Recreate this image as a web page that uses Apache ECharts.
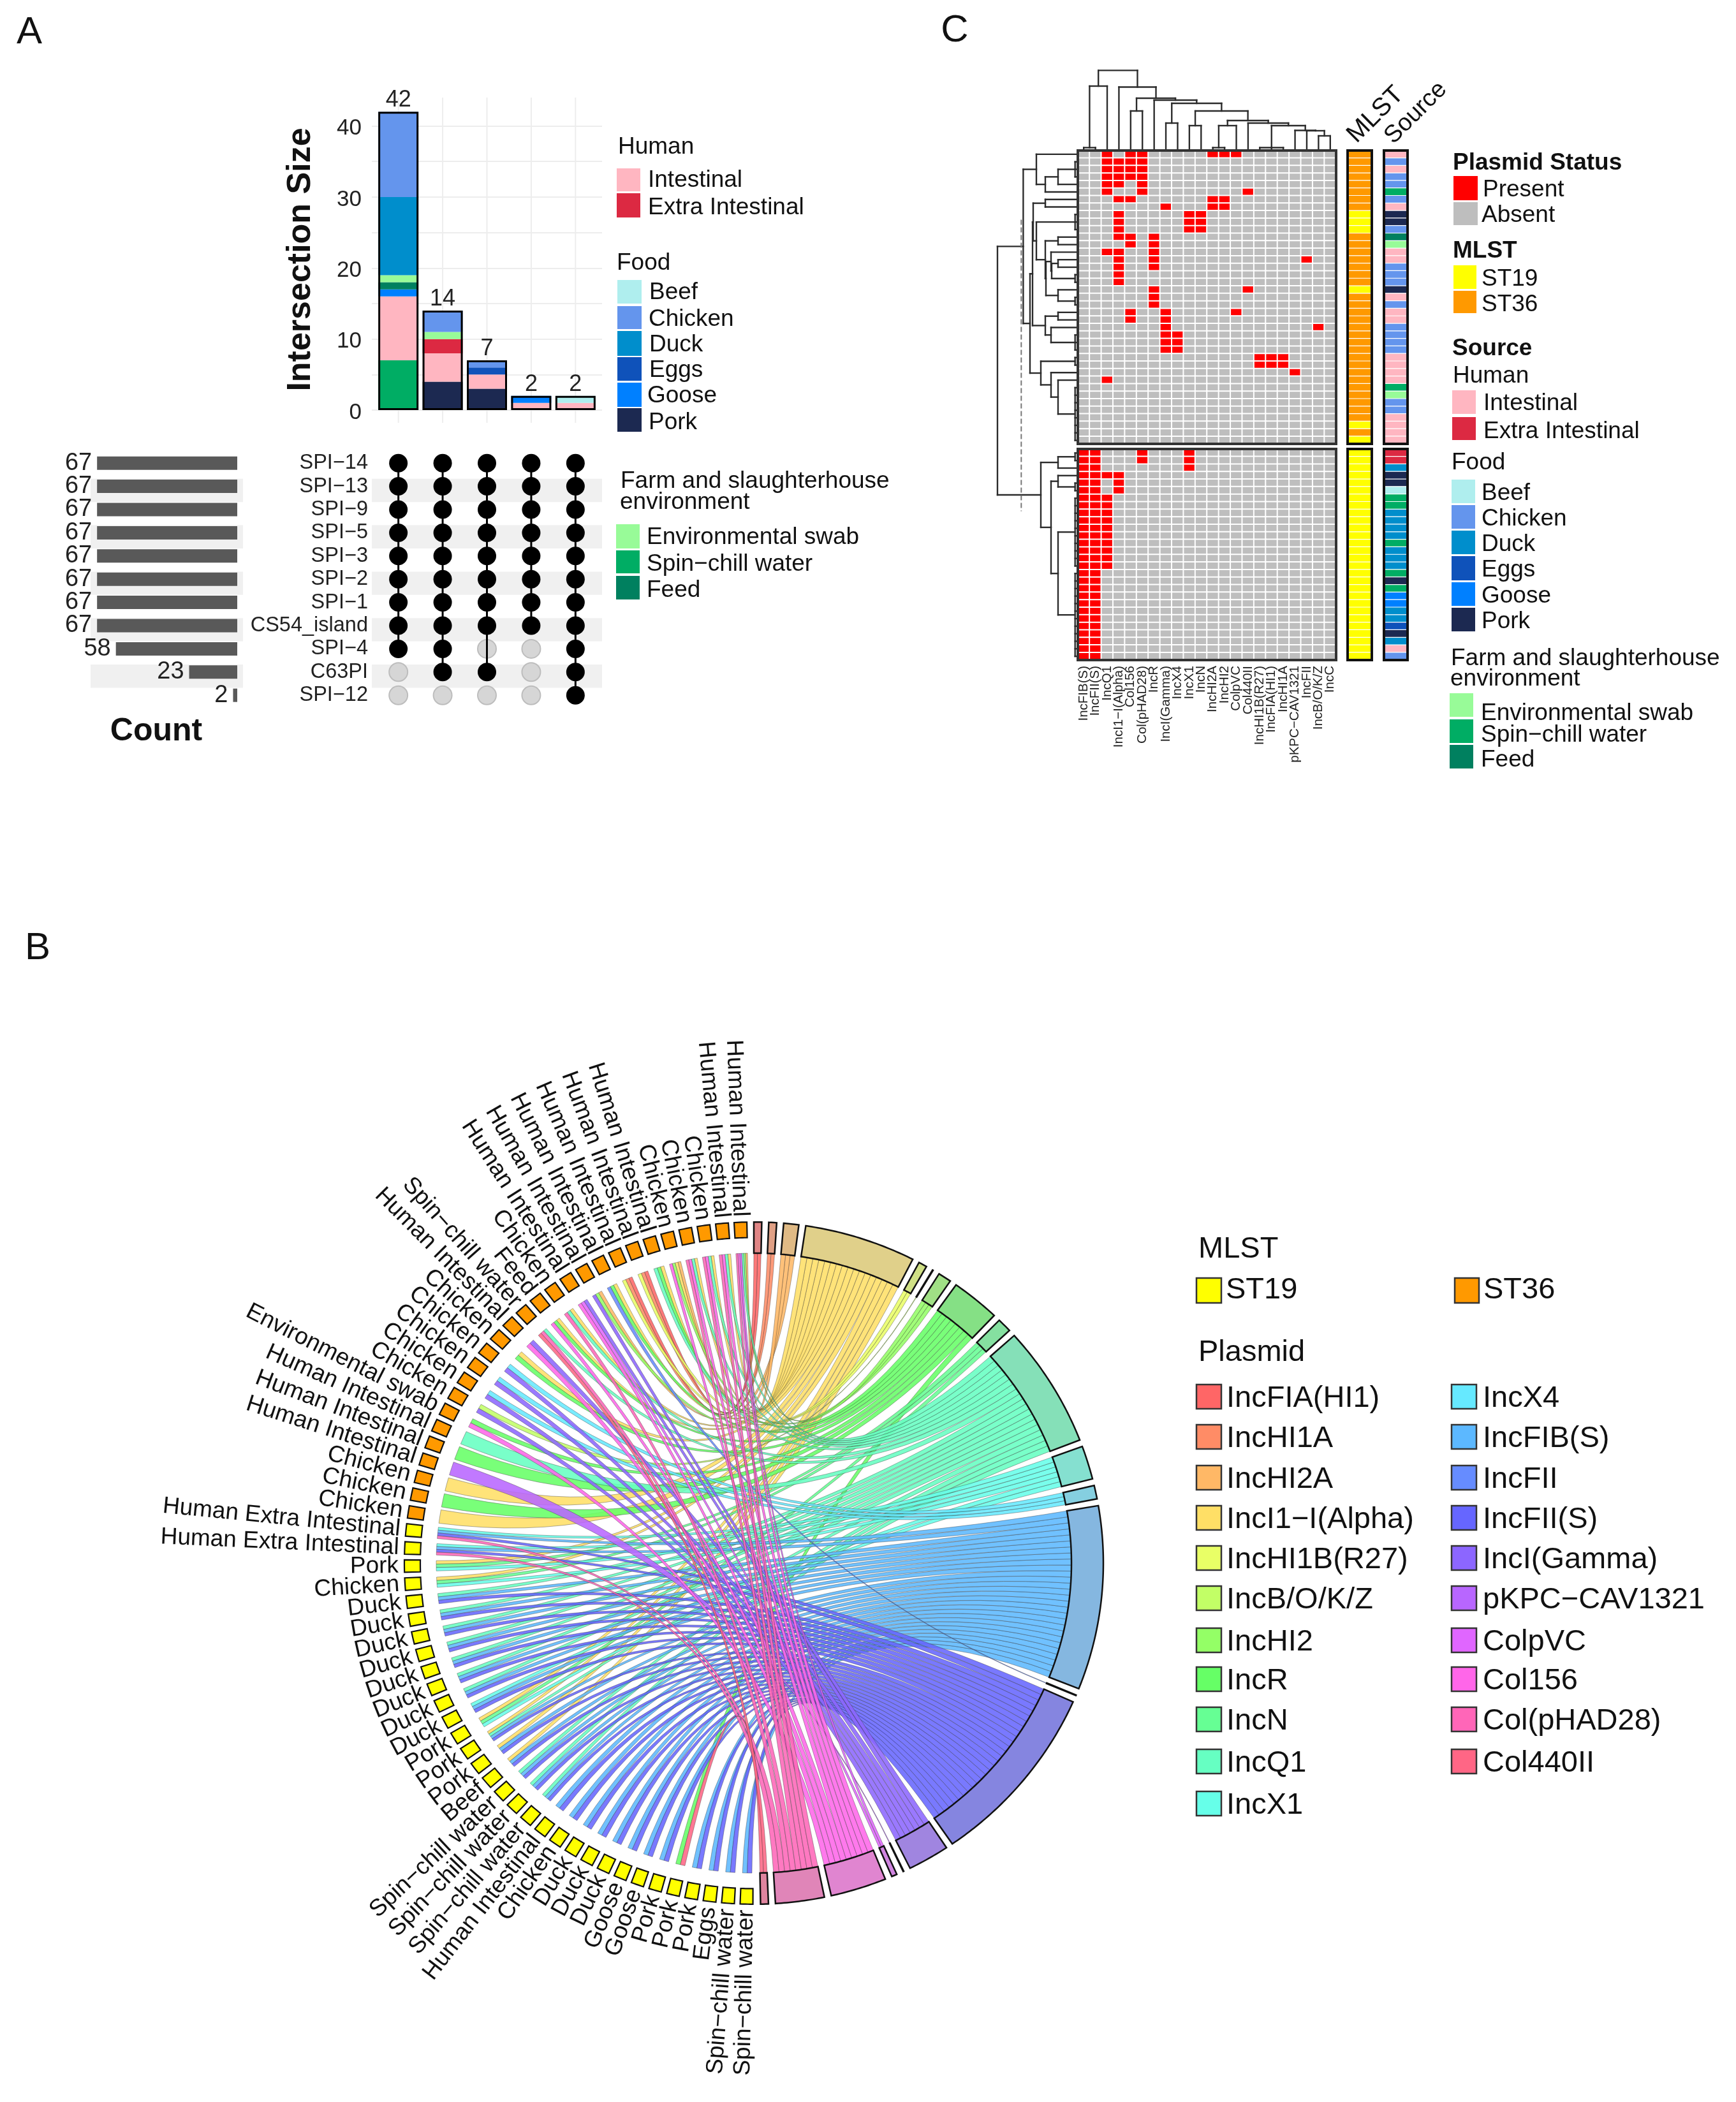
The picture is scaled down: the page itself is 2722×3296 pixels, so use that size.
<!DOCTYPE html>
<html><head><meta charset="utf-8">
<style>html,body{margin:0;padding:0;background:#fff}#c{width:2722px;height:3296px}</style>
<script src="https://cdn.jsdelivr.net/npm/echarts@6/dist/echarts.min.js"></script>
</head><body><div id="c"></div>
<script>
// ---------- PANEL A DATA ----------
const setNames=['SPI−14','SPI−13','SPI−9','SPI−5','SPI−3','SPI−2','SPI−1','CS54_island','SPI−4','C63PI','SPI−12'];
const setCounts=[67,67,67,67,67,67,67,67,58,23,2];
const intersectionColumns=[1,2,3,4,5];
const intersectionTotals=[42,14,7,2,2];
const membership=[[1,1,1,1,1],[1,1,1,1,1],[1,1,1,1,1],[1,1,1,1,1],[1,1,1,1,1],[1,1,1,1,1],[1,1,1,1,1],[1,1,1,1,1],[1,1,0,0,1],[0,1,1,0,1],[0,0,0,0,1]];
const barSpin=[7,0,0,0,0];
const barPork=[0,4,3,0,0];
const barIntestinal=[9,4,2,1,1];
const barExtra=[0,2,0,0,0];
const barGoose=[1,0,0,1,0];
const barEggs=[0,0,1,0,0];
const barFeed=[1,0,0,0,0];
const barEnv=[1,1,0,0,0];
const barDuck=[11,0,0,0,0];
const barChicken=[12,3,1,0,0];
const barBeef=[0,0,0,0,1];
// ---------- PANEL C / B DATA ----------
const columnLabels=['IncFIB(S)','IncFII(S)','IncQ1','IncI1−I(Alpha)','Col156','Col(pHAD28)','IncR','IncI(Gamma)','IncX4','IncX1','IncN','IncHI2A','IncHI2','ColpVC','Col440II','IncHI1B(R27)','IncFIA(HI1)','IncHI1A','pKPC−CAV1321','IncFII','IncB/O/K/Z','IncC'];
const rowPlasmids=[[2,4,5,11,12,13],[2,3,4,5],[2,3,4,5],[2,3,4,5],[2,3,5],[2,5,14],[3,4,11,12],[7,11,12],[3,9,10],[3,9,10],[3,9,10],[3,4,6],[4,6],[2,3,6],[3,6,19],[3,6],[3],[3],[6,14],[6],[6],[4,7,13],[4,7],[7,20],[7,8],[7,8],[7,8],[15,16,17],[15,16,17],[18],[2],[],[],[],[],[],[],[],[],
[0,1,5,9],[0,1,5,9],[0,1,9],[0,1,2,3],[0,1,3],[0,1,3],[0,1,2],[0,1,2],[0,1,2],[0,1,2],[0,1,2],[0,1,2],[0,1,2],[0,1,2],[0,1,2],[0,1,2],[0,1],[0,1],[0,1],[0,1],[0,1],[0,1],[0,1],[0,1],[0,1],[0,1],[0,1],[0,1]];
const sourceNames=['Intestinal','Extra','Beef','Chicken','Duck','Eggs','Goose','Pork','Env','Spin','Feed'];
const sourceLabels=['Human Intestinal','Human Extra Intestinal','Beef','Chicken','Duck','Eggs','Goose','Pork','Environmental swab','Spin−chill water','Feed'];
const rowSource=['Intestinal','Chicken','Intestinal','Chicken','Chicken','Spin','Chicken','Intestinal','Pork','Pork','Chicken','Feed','Env','Intestinal','Intestinal','Chicken','Chicken','Chicken','Pork','Intestinal','Chicken','Intestinal','Intestinal','Chicken','Chicken','Chicken','Chicken','Intestinal','Intestinal','Intestinal','Intestinal','Spin','Env','Chicken','Chicken','Intestinal','Intestinal','Intestinal','Intestinal',
'Extra','Extra','Duck','Pork','Pork','Beef','Spin','Spin','Duck','Duck','Duck','Duck','Spin','Duck','Duck','Duck','Spin','Pork','Spin','Goose','Goose','Duck','Duck','Eggs','Pork','Duck','Intestinal','Chicken'];
const st19Rows=[8,9,10,18,36,38,39,40,41,42,43,44,45,46,47,48,49,50,51,52,53,54,55,56,57,58,59,60,61,62,63,64,65,66];
// dendrograms: [height, child, child...]; numbers are leaf indices
const treeColsRight=[36,[1.5,15,16,17],[28.5,18,[28,19,[20,20,21]]]];
const treeColsMid=[59,[36,9,10],[44,[36,[1.5,11,12],13],[40,14,treeColsRight]]];
const topTree=[122.6,[98,[1.5,0,1],2],[96.5,3,[79,[59,4,5],[76,6,[71,[40,7,8],treeColsMid]]]]];
const leftTree=[123,
 [82.6,
  [62,0,[48,[28,[1.3,1,2,3],4],5]],
  [72,
   [68,
    [67,[48,6,7],[62,[1.3,8,9,10],[48,[28,11,12],[47,[39,13,[38,[28,14,15],[1.3,16,17]]],[28,18,[1.3,19,20]]]]]],
    [48,[28,21,22],[39,23,[1.3,24,25,26]]]],
   [55,[1.3,27,28],[39,29,[28,30,[1.3,31,32,33,34,35,36,37,38]]]]]],
 [55,[28,[1.3,39,40],41],[39,[28,42,[1.3,43,44]],[28,[1.3,45,46,47,48,49,50,51,52,53,54],[1.3,55,56,57,58,59,60,61,62,63,64,65,66]]]]];
// chord diagram: plasmids clockwise from the top, and their sector sizes in degrees
const plasmids=['IncFIA(HI1)','IncHI1A','IncHI2A','IncI1−I(Alpha)','IncHI1B(R27)','IncB/O/K/Z','IncHI2','IncR','IncN','IncQ1','IncX1','IncX4','IncFIB(S)','IncFII','IncFII(S)','IncI(Gamma)','pKPC−CAV1321','ColpVC','Col156','Col(pHAD28)','Col440II'];
const plasmidSpan=[1.3,1.3,2.5,18.5,1.4,0.1,2.2,8.1,2.4,20.7,5.7,2.3,31.3,0.1,31.4,6.9,0.1,0.9,9.3,8.1,1.3];
const plasmidColors=['#FF6666','#FF8C66','#FFB866','#FFDF66','#E9FF66','#C2FF66','#94FF66','#66FF66','#66FF94','#66FFC2','#66FFE9','#66E9FF','#5CB8FF','#668CFF','#6666FF','#8C66FF','#B866FF','#E066FF','#FF66E9','#FF66B8','#FF6685'];
const plasmidTrackColors=['#E08585','#E0A085','#E0BA85','#E0D08A','#D0E085','#B8E085','#A0E085','#85E085','#85E0A0','#85E0B8','#85E0D0','#85CFE0','#85B7E0','#85A0E0','#8585E0','#A085E0','#B885E0','#D085E0','#E085D0','#E085B8','#E0859F'];
// heatmap rows in chord order, clockwise from the bottom
const chordOrder=[55,57,62,56,18,63,58,59,60,61,64,66,65,45,46,51,44,43,42,9,41,47,48,49,50,52,53,54,10,8,40,39,
 16,20,17,29,19,30,12,23,24,25,26,15,22,5,11,4,21,7,14,27,28,13,6,1,3,2,0];
// sample-side ribbon width in degrees, read by number of plasmids carried (1,2,3,4+)
const sampleWidthByLinks=[2.5,1.7,1.9,2.1];

// ---------- STYLE ----------
const FONT='"Liberation Sans", Arial, sans-serif';
const sourceColor={Intestinal:'#FFB6C1',Extra:'#DC2942',Beef:'#AFEEEE',Chicken:'#6495ED',Duck:'#008ECC',Eggs:'#0F52BA',Goose:'#0080FF',Pork:'#1C2951',Env:'#98FB98',Spin:'#00AD64',Feed:'#00805F'};
const ST19='#FFFF00',ST36='#FF9900';
const CY=2451,Y_SQUASH=0.976,R_IN=498,R_OUT=548,R_SQ=523,GAP=1.15,S0=181.2,SSTEP=3.045,SQW=2.1;

// ---------- LAYOUT OF OPTION ----------
const grid=[],xAxis=[],yAxis=[],series=[],visualMap=[],graphic=[];
function addGrid(g,x,y){grid.push(Object.assign({containLabel:false},g));x.gridIndex=grid.length-1;y.gridIndex=grid.length-1;xAxis.push(x);yAxis.push(y);return grid.length-1;}
const hiddenAxis=(extra)=>Object.assign({axisLine:{show:false},axisTick:{show:false},axisLabel:{show:false},splitLine:{show:false}},extra);

// graphics helpers
function T(x,y,text,size,opts){opts=opts||{};graphic.push({type:'text',x,y:y+(opts.rot?0:3),rotation:opts.rot||0,silent:true,z:20,style:{text,fill:'#111',font:(opts.bold?'bold ':'')+size+'px '+FONT,align:opts.align||'left',verticalAlign:'middle'}});}
function SW_(x,y0,y1,w,color,stroke){graphic.push({type:'rect',silent:true,z:20,shape:{x,y:y0,width:w,height:y1-y0},style:{fill:color,stroke:stroke||null,lineWidth:stroke?2.5:0}});}

// ---- A: top stacked bars ----
const gTop=addGrid({left:583,top:153,width:361,height:490},
 {type:'value',min:0.4,max:5.6,show:false},
 {type:'value',min:0,max:44,interval:10,
  minorTick:{show:false,splitNumber:2},minorSplitLine:{show:true,lineStyle:{color:'#EDEDED',width:2}},
  axisLine:{show:false},axisTick:{show:false},
  splitLine:{show:true,showMaxLine:false,lineStyle:{color:'#EDEDED',width:2}},
  axisLabel:{fontSize:35,color:'#222',margin:16,verticalAlign:'top',lineHeight:8,showMaxLabel:false,fontFamily:FONT,formatter:v=>v%10===0?String(v):''}});
series.push({type:'custom',xAxisIndex:gTop,yAxisIndex:gTop,z:1,silent:true,data:intersectionColumns.map(v=>[v]),
 renderItem:(p,api)=>{const a=api.coord([api.value(0),-1.8]),b=api.coord([api.value(0),44]);return {type:'line',shape:{x1:a[0],y1:a[1],x2:b[0],y2:b[1]},style:{stroke:'#EDEDED',lineWidth:2}};}});
const stackLayers=[[barSpin,'Spin'],[barPork,'Pork'],[barIntestinal,'Intestinal'],[barExtra,'Extra'],[barGoose,'Goose'],[barEggs,'Eggs'],[barFeed,'Feed'],[barEnv,'Env'],[barDuck,'Duck'],[barChicken,'Chicken'],[barBeef,'Beef']];
const barSegs=[];
intersectionColumns.forEach((c,i)=>{let base=0;stackLayers.forEach(([arr,k])=>{if(arr[i]>0){barSegs.push([c,base,base+arr[i],k]);base+=arr[i];}});});
series.push({type:'custom',xAxisIndex:gTop,yAxisIndex:gTop,z:3,silent:true,data:barSegs.map(s=>s.slice(0,3)),
 encode:{x:0,y:[1,2]},
 renderItem:(p,api)=>{const c=api.value(0),a=api.coord([c,api.value(1)]),b=api.coord([c,api.value(2)]),w=api.size([1,0])[0]*0.905;
  return {type:'rect',shape:{x:a[0]-w/2,y:b[1],width:w,height:a[1]-b[1]},style:{fill:sourceColor[barSegs[p.dataIndex][3]]}};}});
series.push({type:'bar',xAxisIndex:gTop,yAxisIndex:gTop,barWidth:63,silent:true,z:4,
 itemStyle:{color:'rgba(0,0,0,0)',borderColor:'#000',borderWidth:3},
 label:{show:true,position:'top',distance:0,fontSize:36,color:'#222',fontFamily:FONT,formatter:p=>String(p.value[1])},
 data:intersectionTotals.map((v,i)=>[intersectionColumns[i],v])});
T(472,407,'Intersection Size',52,{bold:true,align:'center',rot:Math.PI/2});

// ---- A: stripes (sit slightly below the rows in the reference) ----
function stripes(left,width){
 const g=addGrid({left,width,top:714.4,height:400.4},{type:'value',show:false},
  hiddenAxis({type:'category',inverse:true,data:setNames,splitArea:{show:true,interval:0,areaStyle:{color:['rgba(0,0,0,0)','#F0F0F0']}}}));
 series.push({type:'scatter',xAxisIndex:g,yAxisIndex:g,data:[],silent:true});
}
stripes(142,239);stripes(583,361);

// ---- A: left set-size bars ----
const gLeft=addGrid({left:142,top:708,width:239,height:400.4},
 {type:'value',inverse:true,min:-2.74,max:70.1,show:false},
 hiddenAxis({type:'category',inverse:true,data:setNames}));
series.push({type:'bar',xAxisIndex:gLeft,yAxisIndex:gLeft,barWidth:21,silent:true,itemStyle:{color:'#595959'},
 label:{show:true,position:'left',distance:8,fontSize:38,color:'#222',fontFamily:FONT},data:setCounts});

// ---- A: matrix ----
const gDots=addGrid({left:583,top:708,width:361,height:400.4},
 {type:'value',min:0.4,max:5.6,show:false},
 {type:'category',inverse:true,data:setNames,axisLine:{show:false},axisTick:{show:false},splitLine:{show:false},
  axisLabel:{interval:0,fontSize:32.5,color:'#222',margin:6,fontFamily:FONT}});
const grayDots=[],blackDots=[];
membership.forEach((r,ri)=>r.forEach((m,ci)=>(m?blackDots:grayDots).push([intersectionColumns[ci],setNames[ri]])));
series.push({type:'scatter',xAxisIndex:gDots,yAxisIndex:gDots,symbolSize:29,silent:true,z:2,itemStyle:{color:'#D6D6D6',borderColor:'#BDBDBD',borderWidth:2,opacity:1},data:grayDots});
intersectionColumns.forEach((c,ci)=>{
 const rows=setNames.filter((s,ri)=>membership[ri][ci]);
 series.push({type:'line',xAxisIndex:gDots,yAxisIndex:gDots,symbol:'none',silent:true,z:3,lineStyle:{color:'#000',width:3},data:[[c,rows[0]],[c,rows[rows.length-1]]]});
});
series.push({type:'scatter',xAxisIndex:gDots,yAxisIndex:gDots,symbolSize:29,silent:true,z:4,itemStyle:{color:'#000',opacity:1},data:blackDots});

// ---- C: heatmap blocks + strips ----
const B1=[...Array(39).keys()],B2=[...Array(28).keys()].map(i=>i+39);
const presentIdx=[],mlstIdx=[],srcIdx=[];
function heat(left,width,top,height,cols,rows,showLabels,valueOf,bucket,frame,cellBorder){
 const g=addGrid({left,top,width,height,show:true,z:10,borderColor:frame,borderWidth:4,backgroundColor:'rgba(0,0,0,0)'},
  showLabels?{type:'category',data:cols,axisLine:{show:false},axisTick:{show:false},splitLine:{show:false},
     axisLabel:{interval:0,rotate:90,fontSize:20.5,color:'#222',margin:9,fontFamily:FONT}}
    :hiddenAxis({type:'category',data:cols}),
  hiddenAxis({type:'category',inverse:true,data:rows.map(String)}));
 const d=[];
 rows.forEach((r,ri)=>cols.forEach((c,ci)=>d.push([ci,ri,valueOf(r,ci)])));
 bucket.push(series.length);
 series.push({type:'heatmap',xAxisIndex:g,yAxisIndex:g,silent:true,progressive:0,z:2,itemStyle:{borderColor:'#fff',borderWidth:cellBorder},emphasis:{disabled:true},data:d});
}
const present=(r,c)=>rowPlasmids[r].includes(c)?1:0;
heat(1690,405,236,460,columnLabels,B1,false,present,presentIdx,'#333',2);
heat(1690,405,704,331,columnLabels,B2,true,present,presentIdx,'#333',2);
const mlstOf=r=>st19Rows.includes(r)?1:0, srcOf=r=>sourceNames.indexOf(rowSource[r]);
heat(2113,38,236,460,['MLST'],B1,false,mlstOf,mlstIdx,'#111',1.2);
heat(2113,38,704,331,['MLST'],B2,false,mlstOf,mlstIdx,'#111',1.2);
heat(2170,37,236,460,['Source'],B1,false,srcOf,srcIdx,'#111',1.2);
heat(2170,37,704,331,['Source'],B2,false,srcOf,srcIdx,'#111',1.2);
visualMap.push({type:'piecewise',show:false,dimension:2,seriesIndex:presentIdx,pieces:[{value:0,color:'#BEBEBE'},{value:1,color:'#FF0000'}]});
visualMap.push({type:'piecewise',show:false,dimension:2,seriesIndex:mlstIdx,pieces:[{value:0,color:ST36},{value:1,color:ST19}]});
visualMap.push({type:'piecewise',show:false,dimension:2,seriesIndex:srcIdx,pieces:sourceNames.map((s,i)=>({value:i,color:sourceColor[s]}))});

// ---- C: dendrograms ----
function flatten(node,leafPos,out){
 if(typeof node==='number')return {pos:leafPos(node),h:0};
 const kids=node.slice(1).map(k=>flatten(k,leafPos,out));
 const h=node[0],ps=kids.map(k=>k.pos),lo=Math.min(...ps),hi=Math.max(...ps);
 kids.forEach(k=>out.push([k.pos,k.h,k.pos,h]));
 out.push([lo,h,hi,h]);
 return {pos:(lo+hi)/2,h};
}
const topSegs=[];flatten(topTree,i=>i+0.5,topSegs);
const leftSegs=[];flatten(leftTree,i=>i<39?i+0.5:i+0.5+0.68,leftSegs);
const segRender=(swap,lw)=>(p,api)=>{
 const v=[api.value(0),api.value(1),api.value(2),api.value(3)];
 const a=swap?api.coord([v[1],v[0]]):api.coord([v[0],v[1]]);
 const b=swap?api.coord([v[3],v[2]]):api.coord([v[2],v[3]]);
 return {type:'line',shape:{x1:a[0],y1:a[1],x2:b[0],y2:b[1]},style:{stroke:'#2b2b2b',lineWidth:lw,lineCap:'square'}};
};
const gDT=addGrid({left:1690,top:103,width:405,height:130},{type:'value',min:0,max:22,show:false},{type:'value',min:0,max:130,show:false});
series.push({type:'custom',xAxisIndex:gDT,yAxisIndex:gDT,silent:true,renderItem:segRender(false,2.4),data:topSegs});
const gDL=addGrid({left:1562,top:236,width:125,height:799},{type:'value',inverse:true,min:0,max:125,show:false},{type:'value',inverse:true,min:0,max:67.68,show:false});
series.push({type:'custom',xAxisIndex:gDL,yAxisIndex:gDL,silent:true,renderItem:segRender(true,2.4),data:leftSegs});
series.push({type:'line',xAxisIndex:gDL,yAxisIndex:gDL,symbol:'none',silent:true,lineStyle:{color:'#777',width:2,type:'dashed'},data:[[85.7,9.2],[85.7,47.9]]});

// ---- B: chord ----
const plasmidStart=[];let acc=0;plasmidSpan.forEach(s=>{plasmidStart.push(acc);acc+=s+GAP;});
const links=[];
chordOrder.forEach((row,si)=>rowPlasmids[row].forEach(col=>links.push({row,si,p:plasmids.indexOf(columnLabels[col])})));
plasmids.forEach((_,p)=>{
 const L=links.filter(l=>l.p===p).sort((a,b)=>b.si-a.si),w=plasmidSpan[p]/Math.max(1,L.length);
 L.forEach((l,i)=>{l.a0=plasmidStart[p]+i*w;l.a1=l.a0+w;});
});
chordOrder.forEach((_,si)=>{
 const L=links.filter(l=>l.si===si).sort((a,b)=>b.p-a.p),c=S0+si*SSTEP;
 const SW=sampleWidthByLinks[Math.min(L.length,4)-1]||2,w=SW/Math.max(1,L.length);
 L.forEach((l,i)=>{l.b0=c-SW/2+i*w;l.b1=l.b0+w;});
});
links.sort((a,b)=>a.p-b.p);
const PT=(api,r,deg)=>{const q=api.coord([r,deg]);return [q[0],CY+(q[1]-CY)*Y_SQUASH];};
function arcPts(api,r,a,b,out){const n=Math.max(1,Math.ceil(Math.abs(b-a)/0.5));for(let i=0;i<=n;i++)out.push(PT(api,r,a+(b-a)*i/n));}
function curvePts(api,a,b,out){
 const A=PT(api,R_IN,a),B=PT(api,R_IN,b),C=PT(api,0,0);
 for(let i=0;i<=28;i++){const t=i/28,u=1-t;out.push([u*u*A[0]+2*u*t*C[0]+t*t*B[0],u*u*A[1]+2*u*t*C[1]+t*t*B[1]]);}
}
series.push({type:'custom',coordinateSystem:'polar',polarIndex:0,silent:true,z:3,
 data:links.map(l=>[R_IN,l.a0]),
 renderItem:(p,api)=>{const l=links[p.dataIndex],pts=[];
  curvePts(api,l.a0,l.b1,pts);arcPts(api,R_IN,l.b1,l.b0,pts);curvePts(api,l.b0,l.a1,pts);arcPts(api,R_IN,l.a1,l.a0,pts);
  return {type:'polygon',shape:{points:pts},style:{fill:plasmidColors[l.p],opacity:0.88,stroke:'rgba(50,50,50,0.45)',lineWidth:1}};}});
series.push({type:'custom',coordinateSystem:'polar',polarIndex:0,silent:true,z:4,
 data:plasmids.map((n,i)=>[R_IN,plasmidStart[i]]),
 renderItem:(p,api)=>{const i=p.dataIndex,a=plasmidStart[i],b=a+plasmidSpan[i],pts=[];
  arcPts(api,R_OUT,a,b,pts);arcPts(api,R_IN,b,a,pts);
  return {type:'polygon',shape:{points:pts},style:{fill:plasmidTrackColors[i],stroke:'#111',lineWidth:2.5}};}});
series.push({type:'custom',coordinateSystem:'polar',polarIndex:0,silent:true,z:4,
 data:chordOrder.map((r,i)=>[R_SQ,S0+i*SSTEP]),
 renderItem:(p,api)=>{const r=chordOrder[p.dataIndex],c=S0+p.dataIndex*SSTEP,pts=[];
  arcPts(api,R_OUT,c-SQW/2,c+SQW/2,pts);arcPts(api,R_SQ,c+SQW/2,c-SQW/2,pts);
  const pos=PT(api,R_OUT+9,c);
  return {type:'group',children:[
   {type:'polygon',shape:{points:pts},style:{fill:st19Rows.includes(r)?ST19:ST36,stroke:'#111',lineWidth:2.2}},
   {type:'text',x:pos[0],y:pos[1],rotation:(270-c)*Math.PI/180,style:{text:sourceLabels[sourceNames.indexOf(rowSource[r])],fill:'#111',font:'37px '+FONT,align:'right',verticalAlign:'middle'}}]};}});

// ---- texts & legends ----
T(46,48,'A',60,{align:'center'});T(1497,45,'C',60,{align:'center'});T(59,1484,'B',60,{align:'center'});
T(245,1144,'Count',50,{bold:true,align:'center'});
const FS=37;
// A legend
T(969,228,'Human',FS);
SW_(967,264,300,37,sourceColor.Intestinal);T(1016,280,'Intestinal',FS);
SW_(967,303,341,37,sourceColor.Extra);T(1016,323,'Extra Intestinal',FS);
T(967,410,'Food',FS);
[['Beef',439,476,1018,456],['Chicken',480,516,1017,498],['Duck',519,558,1018,538],['Eggs',560,597,1018,578],['Goose',600,638,1015,618],['Pork',640,677,1017,660]].forEach(([k,a,b,tx,ty])=>{SW_(968,a,b,38,sourceColor[k]);T(tx,ty,k,FS);});
T(973,752,'Farm and slaughterhouse',FS);T(972,785,'environment',FS);
[['Env','Environmental swab',822,860,840],['Spin','Spin−chill water',863,899,882],['Feed','Feed',903,940,923]].forEach(([k,t,a,b,ty])=>{SW_(966,a,b,37,sourceColor[k]);T(1014,ty,t,FS);});
// C legend
T(2278,253,'Plasmid Status',FS,{bold:true});
SW_(2279,276,314,38,'#FF0000');T(2325,295,'Present',FS);
SW_(2279,317,353,38,'#BEBEBE');T(2323,335,'Absent',FS);
T(2278,391,'MLST',FS,{bold:true});
SW_(2279,416,453,36,ST19);T(2323,435,'ST19',FS);
SW_(2279,456,491,36,ST36);T(2323,475,'ST36',FS);
T(2277,544,'Source',FS,{bold:true});
T(2278,587,'Human',FS);
SW_(2277,612,649,37,sourceColor.Intestinal);T(2326,630,'Intestinal',FS);
SW_(2277,654,690,37,sourceColor.Extra);T(2326,674,'Extra Intestinal',FS);
T(2276,723,'Food',FS);
[['Beef',752,789],['Chicken',792,829],['Duck',832,869],['Eggs',872,910],['Goose',913,950],['Pork',953,990]].forEach(([k,a,b])=>{SW_(2276,a,b,37,sourceColor[k]);T(2323,(a+b)/2,k,FS);});
T(2275,1030,'Farm and slaughterhouse',FS);T(2274,1062,'environment',FS);
[['Env','Environmental swab',1087,1124,1116],['Spin','Spin−chill water',1128,1165,1150],['Feed','Feed',1168,1205,1189]].forEach(([k,t,a,b,ty])=>{SW_(2273,a,b,37,sourceColor[k]);T(2322,ty,t,FS);});
// strip titles
T(2157,180,'MLST',40,{align:'center',rot:Math.PI/4});
T(2220,177,'Source',38,{align:'center',rot:Math.PI/4});
// B legend
const LF=47;
T(1879,1956,'MLST',LF);
SW_(1876,2004,2043,39,ST19,'#333');T(1922,2020,'ST19',LF);
SW_(2281,2004,2043,38,ST36,'#333');T(2326,2020,'ST36',LF);
T(1879,2118,'Plasmid',LF);
const legendRowY=[2190,2253,2317,2380,2443,2506,2572,2633,2696,2762,2828];
plasmids.forEach((n,i)=>{
 const col2=i>=11,y=legendRowY[col2?i-11:i],x=col2?2276:1876,tx=col2?2325:1923;
 SW_(x,y-19,y+19,39,plasmidColors[i],'#333');T(tx,y,n,LF);
});

const option={animation:false,backgroundColor:'#fff',textStyle:{fontFamily:FONT},tooltip:{show:false},
 grid,xAxis,yAxis,series,visualMap,graphic,
 polar:{center:[1182,CY],radius:560},
 angleAxis:{type:'value',min:0,max:360,startAngle:90,clockwise:true,show:false},
 radiusAxis:{type:'value',min:0,max:560,show:false}};
const chart=echarts.init(document.getElementById('c'),null,{renderer:'canvas',width:2722,height:3296});
chart.setOption(option);
</script></body></html>
